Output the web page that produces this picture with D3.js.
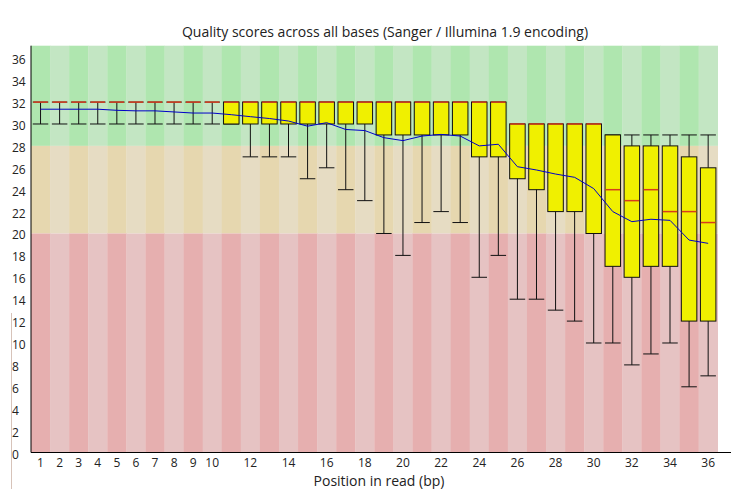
<!DOCTYPE html>
<html>
<head>
<meta charset="utf-8">
<script src="https://cdn.jsdelivr.net/npm/d3@7"></script>
<style>
    body { margin: 0; background: #fff; }
    svg { display: block; }
    text { font-family: "Open Sans", "Noto Sans", sans-serif; fill: #222; }
</style>
</head>
<body>
<script>
// per-base quality values
var positions = d3.range(1, 37);
var tickLabels = [1, 2, 3, 4, 5, 6, 7, 8, 9, 10, 12, 14, 16, 18, 20, 22, 24, 26, 28, 30, 32, 34, 36];
var yTicks = d3.range(0, 37, 2);

var p90    = [32,32,32,32,32,32,32,32,32,32, 32,32,32,32,32,32,32,32,32,32, 32,32,32,32,32,30,30,30,30,30, 29,29,29,29,29,29];
var upperQ = [32,32,32,32,32,32,32,32,32,32, 32,32,32,32,32,32,32,32,32,32, 32,32,32,32,32,30,30,30,30,30, 29,28,28,28,27,26];
var median = [32,32,32,32,32,32,32,32,32,32, 32,32,32,32,32,32,32,32,32,32, 32,32,32,32,32,30,30,30,30,30, 24,23,24,22,22,21];
var lowerQ = [32,32,32,32,32,32,32,32,32,32, 30,30,30,30,30,30,30,30,29,29, 29,29,29,27,27,25,24,22,22,20, 17,16,17,17,12,12];
var p10    = [30,30,30,30,30,30,30,30,30,30, 30,27,27,27,25,26,24,23,20,18, 21,22,21,16,18,14,14,13,12,10, 10, 8, 9,10, 6, 7];
var mean   = [31.35,31.35,31.35,31.35,31.25,31.2,31.2,31.1,31.0,31.0,
              30.85,30.67,30.5,30.27,29.8,30.12,29.5,29.4,28.75,28.48,
              28.9,29.05,28.9,28.0,28.15,26.1,25.8,25.43,25.13,24.1,
              22.0,21.08,21.3,21.2,19.4,19.1];

var zones = [
    { lo: 28, hi: 37.15, light: "rgb(195,230,195)", dark: "rgb(175,230,175)" },
    { lo: 20, hi: 28,    light: "rgb(230,220,195)", dark: "rgb(230,215,175)" },
    { lo: 0,  hi: 20,    light: "rgb(230,195,195)", dark: "rgb(230,175,175)" }
];

(function()
{
    var W = 731, H = 489;
    var left = 31, right = 717.7, top = 45.7, bottom = 452.5;

    var svg = d3.select("body")
        .append("svg")
        .attr("width", W)
        .attr("height", H);

    var x = d3.scaleBand()
        .domain(positions)
        .range([left, right])
        .padding(0);
    var y = d3.scaleLinear()
        .domain([0, 37.15])
        .range([bottom, top]);

    var bw = x.bandwidth();
    var boxW = 15.5;

    var rows = positions.map(function(p, i) {
        return { pos: p, i: i, p90: p90[i], uq: upperQ[i], med: median[i], lq: lowerQ[i], p10: p10[i], mean: mean[i] };
    });

    // striped background zones
    var bg = svg.append("g");
    zones.forEach(function(z) {
        bg.selectAll(null)
            .data(positions)
            .enter()
            .append("rect")
            .attr("x", function(d) { return x(d); })
            .attr("y", y(z.hi))
            .attr("width", bw + 0.3)
            .attr("height", y(z.lo) - y(z.hi))
            .attr("fill", function(d) { return d % 2 === 1 ? z.dark : z.light; });
    });

    var boxes = svg.append("g").selectAll("g")
        .data(rows)
        .enter()
        .append("g")
        .attr("transform", function(d) { return "translate(" + (x(d.pos) + bw / 2) + ",0)"; });

    // whisker stems
    boxes.append("line")
        .attr("x1", 0).attr("x2", 0)
        .attr("y1", function(d) { return y(d.p90); })
        .attr("y2", function(d) { return y(d.p10); })
        .attr("stroke", "#111")
        .attr("stroke-width", 1);

    // whisker caps
    boxes.selectAll("line.cap")
        .data(function(d) { return [d.p90, d.p10]; })
        .enter()
        .append("line")
        .attr("class", "cap")
        .attr("x1", -boxW / 2).attr("x2", boxW / 2)
        .attr("y1", function(v) { return y(v); })
        .attr("y2", function(v) { return y(v); })
        .attr("stroke", "#111")
        .attr("stroke-width", 1);

    // interquartile boxes
    boxes.append("rect")
        .attr("x", -boxW / 2)
        .attr("y", function(d) { return y(d.uq); })
        .attr("width", boxW)
        .attr("height", function(d) { return y(d.lq) - y(d.uq); })
        .attr("fill", "rgb(240,240,0)")
        .attr("stroke", "#111")
        .attr("stroke-width", 1);

    // medians
    boxes.append("line")
        .attr("x1", -boxW / 2 + 0.5).attr("x2", boxW / 2 - 0.5)
        .attr("y1", function(d) { return y(d.med); })
        .attr("y2", function(d) { return y(d.med); })
        .attr("stroke", "rgb(215,60,30)")
        .attr("stroke-width", 1.5);

    // mean line
    var line = d3.line()
        .x(function(d) { return x(d.pos) + bw / 2; })
        .y(function(d) { return y(d.mean); });
    svg.append("path")
        .datum(rows)
        .attr("d", line)
        .attr("fill", "none")
        .attr("stroke", "rgb(0,0,200)")
        .attr("stroke-width", 1);

    // axes
    svg.append("line")
        .attr("x1", left).attr("x2", left)
        .attr("y1", top).attr("y2", bottom)
        .attr("stroke", "#000");
    svg.append("line")
        .attr("x1", left).attr("x2", W)
        .attr("y1", bottom).attr("y2", bottom)
        .attr("stroke", "#000");

    svg.append("g").selectAll("text")
        .data(yTicks)
        .enter()
        .append("text")
        .attr("x", 12)
        .attr("y", function(d) { return y(d) + 6; })
        .attr("font-size", "12px")
        .text(function(d) { return d; });

    svg.append("g").selectAll("text")
        .data(tickLabels)
        .enter()
        .append("text")
        .attr("x", function(d) { return x(d) + bw / 2; })
        .attr("y", 467)
        .attr("text-anchor", "middle")
        .attr("font-size", "12px")
        .text(function(d) { return d; });

    svg.append("text")
        .attr("x", 385)
        .attr("y", 37)
        .attr("text-anchor", "middle")
        .attr("font-size", "14px")
        .text("Quality scores across all bases (Sanger / Illumina 1.9 encoding)");

    svg.append("text")
        .attr("x", 379)
        .attr("y", 486)
        .attr("text-anchor", "middle")
        .attr("font-size", "14px")
        .text("Position in read (bp)");

    // faint stray rule at the far left of the original image
    svg.append("line")
        .attr("x1", 11.5).attr("x2", 11.5)
        .attr("y1", 313).attr("y2", H)
        .attr("stroke", "rgb(215,195,185)");
})();
</script>
</body>
</html>
